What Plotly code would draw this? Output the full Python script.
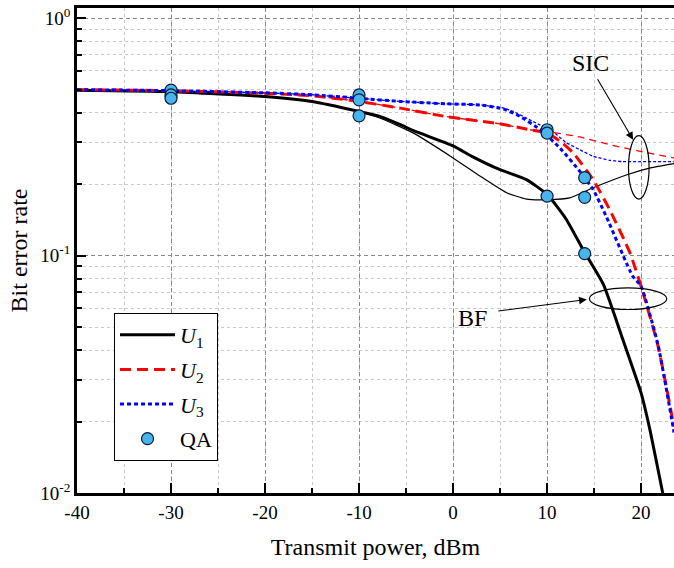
import plotly.graph_objects as go
import math

# ---------------- data ----------------
# BF (thick) curves
x_bf_u1 = [-40, -30, -20, -15, -10, -7.8, -5.6, -4.2, 0, 2, 5, 7.8, 10, 12, 14, 16, 18, 20, 21, 22.3, 23]
y_bf_u1 = [0.497, 0.49, 0.468, 0.446, 0.405, 0.386, 0.356, 0.336, 0.29, 0.262, 0.23, 0.209, 0.181,
           0.143, 0.103, 0.0755, 0.045, 0.0264, 0.018, 0.01, 0.0075]

x_bf_u2 = [-40, -30, -20, -15, -10, -5.6, -0.7, 4.6, 8.2, 10, 11.4, 12.8, 14.9, 16.7, 18.8, 20, 21.8, 23.5]
y_bf_u2 = [0.5, 0.495, 0.483, 0.471, 0.446, 0.418, 0.385, 0.361, 0.339, 0.328, 0.303, 0.27, 0.209,
           0.155, 0.103, 0.0743, 0.0416, 0.019]

x_bf_u3 = [-40, -30, -20, -15, -10, -5.6, -0.7, 2.9, 5.4, 7.1, 9.3, 11.4, 13.5, 14.9, 16.3, 19.1, 20, 21.8, 23.5]
y_bf_u3 = [0.5, 0.495, 0.485, 0.476, 0.46, 0.446, 0.436, 0.431, 0.414, 0.386, 0.339, 0.283, 0.226,
           0.19, 0.146, 0.082, 0.0743, 0.042, 0.018]

# SIC (thin) curves
x_sic_u1 = [-40, -30, -20, -15, -10, -7.8, -4.2, 0, 2.9, 5.7, 7.8, 10, 12.4, 14.9, 18.5, 21, 23.5]
y_sic_u1 = [0.497, 0.49, 0.468, 0.446, 0.405, 0.38, 0.328, 0.258, 0.216, 0.184, 0.173, 0.172, 0.175,
            0.193, 0.219, 0.234, 0.244]

x_sic_u2 = [-40, -30, -20, -15, -10, -5.6, -0.7, 4.6, 8.2, 10, 13.5, 16.7, 19.9, 23.5]
y_sic_u2 = [0.5, 0.495, 0.483, 0.471, 0.446, 0.418, 0.385, 0.361, 0.339, 0.333, 0.316, 0.293, 0.275, 0.258]

x_sic_u3 = [-40, -30, -20, -15, -10, -5.6, -0.7, 2.9, 5.4, 6.4, 8.5, 10.6, 12, 13.5, 14.9, 16.7, 18, 23.5]
y_sic_u3 = [0.5, 0.495, 0.485, 0.476, 0.46, 0.446, 0.436, 0.431, 0.418, 0.405, 0.367, 0.333, 0.30,
            0.279, 0.262, 0.252, 0.249, 0.249]

# QA points
qa_x = [-30, -30, -30, -10, -10, -10, 10, 10, 10, 14, 14, 14]
qa_y = [0.498, 0.475, 0.46, 0.475, 0.453, 0.388, 0.339, 0.328, 0.178, 0.213, 0.176, 0.102]

# axis ticks
x_ticks = [-40, -30, -20, -10, 0, 10, 20]
x_ticktext = ["-40", "-30", "-20", "-10", "0", "10", "20"]
y_ticks = [0.01, 0.1, 1]
y_ticktext = ["10<sup>-2</sup>", "10<sup>-1</sup>", "10<sup>0</sup>"]
y_minor = [m * d for d in (0.01, 0.1, 1) for m in range(2, 10)]

FONT = "Liberation Serif"

fig = go.Figure()

def add(x, y, name, color, width, dash, show, group):
    fig.add_trace(go.Scatter(
        x=x, y=y, mode="lines", name=name, showlegend=show, legendgroup=group,
        line=dict(color=color, width=width, dash=dash, shape="spline", smoothing=0.5),
    ))

add(x_sic_u1, y_sic_u1, "sic1", "black", 1.2, "solid", False, "s1")
add(x_sic_u2, y_sic_u2, "sic2", "red", 1.3, "7px,5px", False, "s2")
add(x_sic_u3, y_sic_u3, "sic3", "blue", 1.3, "3px,2px", False, "s3")
add(x_bf_u1, y_bf_u1, "<i>U</i><sub>1</sub>", "black", 3, "solid", True, "g1")
add(x_bf_u2, y_bf_u2, "<i>U</i><sub>2</sub>", "red", 3, "11px,6px", True, "g2")
add(x_bf_u3, y_bf_u3, "<i>U</i><sub>3</sub>", "blue", 3, "4px,3px", True, "g3")

fig.add_trace(go.Scatter(
    x=qa_x, y=qa_y, mode="markers", name="QA", legendgroup="g4",
    marker=dict(size=12, color="#47b4ea", line=dict(color="#0a1a3a", width=1.2)),
))

# annotations (log axis -> log10 coordinates)
fig.add_annotation(x=14.6, y=math.log10(0.649), xref="x", yref="y", text="SIC", showarrow=False,
                   font=dict(family=FONT, size=24, color="black"))
fig.add_annotation(x=19.15, y=-0.512, ax=15.28, ay=-0.251, xref="x", yref="y", axref="x", ayref="y",
                   text="", showarrow=True, arrowhead=2, arrowsize=1.4, arrowwidth=1.1, arrowcolor="black")
fig.add_annotation(x=2.1, y=-1.261, xref="x", yref="y", text="BF", showarrow=False,
                   font=dict(family=FONT, size=24, color="black"))
fig.add_annotation(x=14.22, y=-1.185, ax=4.65, ay=-1.234, xref="x", yref="y", axref="x", ayref="y",
                   text="", showarrow=True, arrowhead=2, arrowsize=1.4, arrowwidth=1.1, arrowcolor="black")

# ellipses
fig.add_shape(type="circle", xref="x", yref="y", x0=18.66, x1=20.85, y0=0.173, y1=0.32,
              line=dict(color="black", width=1.2))
fig.add_shape(type="circle", xref="x", yref="y", x0=14.5, x1=22.73, y0=0.0593, y1=0.0731,
              line=dict(color="black", width=1.2))

fig.update_layout(
    width=674, height=568,
    margin=dict(l=77, r=0, t=8, b=75, autoexpand=False),
    paper_bgcolor="white", plot_bgcolor="white",
    font=dict(family=FONT, size=19, color="black"),
    legend=dict(x=0.062, y=0.371, xanchor="left", yanchor="top",
                bordercolor="black", borderwidth=1, bgcolor="white",
                font=dict(family=FONT, size=22), tracegroupgap=3, itemwidth=55),
    showlegend=True,
)

fig.update_xaxes(
    range=[-40, 23.5], tickvals=x_ticks, ticktext=x_ticktext, automargin=False,
    ticks="inside", ticklen=10, tickwidth=1.5, tickcolor="black",
    showline=True, linecolor="black", linewidth=2.5, mirror=True,
    showgrid=True, gridcolor="#888888", griddash="4px,3px", gridwidth=1,
    zeroline=False,
    minor=dict(dtick=5, tick0=-40, ticks="inside", ticklen=5, tickwidth=1.5, tickcolor="black",
               showgrid=True, gridcolor="#c8c8c8", griddash="dot", gridwidth=1),
    tickfont=dict(family=FONT, size=19),
    title=dict(text="Transmit power, dBm", font=dict(family=FONT, size=24), standoff=17),
)
fig.update_yaxes(
    type="log", range=[-2, 0.043], tickvals=y_ticks, ticktext=y_ticktext, automargin=False,
    ticks="inside", ticklen=9, tickwidth=1.5, tickcolor="black",
    showline=True, linecolor="black", linewidth=2.5, mirror=False,
    showgrid=True, gridcolor="#888888", griddash="4px,3px", gridwidth=1,
    zeroline=False,
    minor=dict(tickvals=y_minor, ticks="inside", ticklen=5, tickwidth=1.5, tickcolor="black",
               showgrid=True, gridcolor="#c8c8c8", griddash="dot", gridwidth=1),
    tickfont=dict(family=FONT, size=19),
    title=dict(text="Bit error rate", font=dict(family=FONT, size=24), standoff=6),
)

fig.write_html(
    "out.html",
    config={"displayModeBar": False},
    post_script="document.body.style.margin='0';document.body.style.overflow='hidden';",
)
